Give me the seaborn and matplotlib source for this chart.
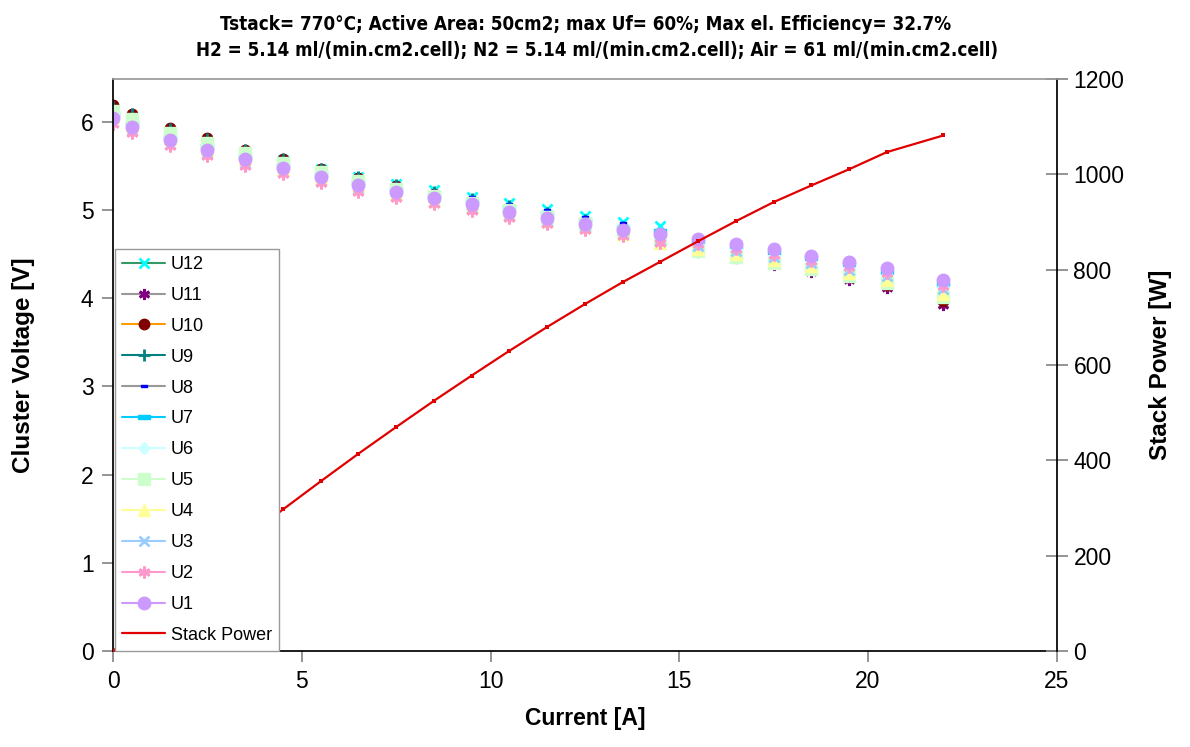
import numpy as np
import pandas as pd
import matplotlib
matplotlib.use('Agg')
import matplotlib.pyplot as plt
from matplotlib.lines import Line2D
import seaborn as sns

# Strom [A]
current = [0, 0.5, 1.5, 2.5, 3.5, 4.5, 5.5, 6.5, 7.5, 8.5, 9.5, 10.5, 11.5,
           12.5, 13.5, 14.5, 15.5, 16.5, 17.5, 18.5, 19.5, 20.5, 22]

# Cluster-Spannungen [V]
u1 = [6.04, 5.94, 5.79, 5.68, 5.57, 5.47, 5.37, 5.28, 5.20, 5.13, 5.06, 4.98,
      4.91, 4.84, 4.77, 4.72, 4.67, 4.61, 4.55, 4.48, 4.41, 4.34, 4.20]
u2 = [5.97, 5.87, 5.72, 5.61, 5.50, 5.40, 5.30, 5.20, 5.13, 5.06, 4.99, 4.91,
      4.84, 4.77, 4.70, 4.62, 4.61, 4.55, 4.49, 4.42, 4.35, 4.28, 4.14]
u3 = [6.00, 5.90, 5.75, 5.64, 5.53, 5.43, 5.33, 5.24, 5.16, 5.09, 5.02, 4.94,
      4.87, 4.80, 4.72, 4.66, 4.59, 4.53, 4.47, 4.40, 4.32, 4.25, 4.10]
u4 = [6.05, 5.95, 5.80, 5.68, 5.57, 5.46, 5.36, 5.27, 5.18, 5.10, 5.03, 4.95,
      4.87, 4.80, 4.72, 4.62, 4.56, 4.50, 4.43, 4.36, 4.28, 4.20, 4.05]
u5 = [6.12, 6.03, 5.87, 5.76, 5.64, 5.53, 5.43, 5.33, 5.24, 5.16, 5.08, 5.00,
      4.92, 4.84, 4.76, 4.66, 4.53, 4.47, 4.40, 4.33, 4.25, 4.17, 4.01]
u6 = [6.06, 5.96, 5.81, 5.70, 5.59, 5.48, 5.38, 5.29, 5.21, 5.13, 5.06, 4.98,
      4.91, 4.83, 4.76, 4.68, 4.61, 4.55, 4.48, 4.41, 4.34, 4.26, 4.12]
u7 = [6.08, 5.98, 5.83, 5.72, 5.61, 5.51, 5.41, 5.32, 5.24, 5.17, 5.10, 5.03,
      4.96, 4.88, 4.81, 4.76, 4.64, 4.58, 4.52, 4.45, 4.38, 4.30, 4.16]
u8 = [6.14, 6.05, 5.90, 5.78, 5.66, 5.56, 5.46, 5.37, 5.29, 5.21, 5.14, 5.07,
      5.00, 4.92, 4.85, 4.75, 4.62, 4.56, 4.50, 4.43, 4.36, 4.28, 4.12]
u9 = [6.17, 6.08, 5.92, 5.80, 5.68, 5.57, 5.46, 5.37, 5.28, 5.20, 5.12, 5.04,
      4.96, 4.88, 4.80, 4.70, 4.58, 4.51, 4.44, 4.36, 4.28, 4.19, 4.02]
u10 = [6.19, 6.09, 5.93, 5.81, 5.68, 5.57, 5.46, 5.36, 5.27, 5.18, 5.10, 5.01,
       4.93, 4.85, 4.77, 4.66, 4.55, 4.48, 4.41, 4.33, 4.24, 4.15, 3.97]
u11 = [6.15, 6.06, 5.90, 5.78, 5.66, 5.55, 5.44, 5.34, 5.25, 5.16, 5.08, 4.99,
       4.91, 4.83, 4.75, 4.63, 4.52, 4.45, 4.37, 4.29, 4.20, 4.11, 3.92]
u12 = [6.11, 6.02, 5.88, 5.77, 5.66, 5.56, 5.46, 5.37, 5.29, 5.22, 5.15, 5.08,
       5.01, 4.93, 4.86, 4.82, 4.64, 4.57, 4.50, 4.43, 4.36, 4.28, 4.13]

# Stack-Leistung [W]
stack_power = [0, 36, 105, 171, 235, 297, 356, 414, 470, 525, 578, 630, 680,
               728, 774, 817, 860, 902, 942, 977, 1011, 1047, 1082]

series_names = ['U12', 'U11', 'U10', 'U9', 'U8', 'U7', 'U6', 'U5', 'U4', 'U3', 'U2', 'U1']
series_values = [u12, u11, u10, u9, u8, u7, u6, u5, u4, u3, u2, u1]

dash_s = [(-1, -0.35), (1, -0.35), (1, 0.35), (-1, 0.35), (-1, -0.35)]
asterisk = (6, 2, 0)
# name: marker, marker colour, legend line colour, size (pt)
stil = {
    'U12': ('x', '#00FFFF', '#339966', 7),
    'U11': (asterisk, '#800080', '#999999', 8),
    'U10': ('o', '#800000', '#FF9900', 7.5),
    'U9': ('+', '#008080', '#008080', 8),
    'U8': (dash_s, '#0000FF', '#999999', 5),
    'U7': (dash_s, '#00CCFF', '#00CCFF', 8),
    'U6': ('D', '#CCFFFF', '#CCFFFF', 6.5),
    'U5': ('s', '#CCFFCC', '#CCFFCC', 8),
    'U4': ('^', '#FFFF99', '#FFFF99', 8),
    'U3': ('x', '#99CCFF', '#99CCFF', 7),
    'U2': (asterisk, '#FF99CC', '#FF99CC', 8.5),
    'U1': ('o', '#CC99FF', '#CC99FF', 9),
}

df = pd.DataFrame({'I': current})
for n, v in zip(series_names, series_values):
    df[n] = v
df['P'] = stack_power

sns.set_theme(style='white')
plt.rcParams['font.family'] = ['Liberation Sans', 'DejaVu Sans']
plt.rcParams['text.color'] = 'black'
plt.rcParams['axes.labelcolor'] = 'black'
plt.rcParams['xtick.color'] = 'black'
plt.rcParams['ytick.color'] = 'black'

fig = plt.figure(figsize=(11.9, 7.47), dpi=100)
ax = fig.add_axes([0.095, 0.1285, 0.793, 0.7655])

for n in series_names:
    mk, mc, lc, ms = stil[n]
    filled = mk not in ('x', '+', asterisk)
    sns.lineplot(data=df, x='I', y=n, ax=ax, linestyle='none', marker=mk,
                 markersize=ms, color=mc, markeredgecolor=mc,
                 markerfacecolor=mc if filled else 'none',
                 markeredgewidth=1.0 if filled else 2.0, legend=False)

ax.set_xlim(0, 25)
ax.set_ylim(0, 6.48)
ax.set_xticks([0, 5, 10, 15, 20, 25])
ax.set_yticks([0, 1, 2, 3, 4, 5, 6])
ax.set_xlabel('Current [A]', fontsize=16.5, fontweight='bold', labelpad=10)
ax.set_ylabel('Cluster Voltage [V]', fontsize=17.5, fontweight='bold', labelpad=33)

ax2 = ax.twinx()
sns.lineplot(data=df, x='I', y='P', ax=ax2, color='#E00000', linewidth=1.6,
             marker='s', markersize=2.5, markeredgewidth=0, legend=False)
ax2.set_ylim(0, 1200)
ax2.set_yticks([0, 200, 400, 600, 800, 1000, 1200])
ax2.set_ylabel('Stack Power [W]', fontsize=17.5, fontweight='bold', labelpad=18)
ax2.set_xlim(0, 25)

for a in (ax, ax2):
    for s in a.spines.values():
        s.set_visible(False)
ax.spines['left'].set_visible(True)
ax.spines['left'].set_color('black')
ax.spines['bottom'].set_visible(True)
ax.spines['bottom'].set_color('black')
ax2.spines['right'].set_visible(True)
ax2.spines['right'].set_color('black')
ax2.spines['top'].set_visible(True)
ax2.spines['top'].set_color('#999999')

ax.tick_params(axis='both', labelsize=16.5, length=8, color='#888888',
               labelcolor='black', direction='out', left=True, bottom=True, pad=6)
ax2.tick_params(axis='y', labelsize=16.5, length=16, color='#888888',
                labelcolor='black', direction='inout', right=True, pad=4)

handles = []
for n in series_names:
    mk, mc, lc, ms = stil[n]
    filled = mk not in ('x', '+', asterisk)
    handles.append(Line2D([], [], color=lc, linewidth=1.5, marker=mk,
                          markersize=ms, markeredgecolor=mc,
                          markerfacecolor=mc if filled else 'none',
                          markeredgewidth=1.0 if filled else 2.0))
handles.append(Line2D([], [], color='#E00000', linewidth=1.6))
labels = series_names + ['Stack Power']
leg = ax2.legend(handles, labels, loc='lower left', bbox_to_anchor=(0.002, 0.0),
                 borderaxespad=0, fontsize=13, labelspacing=0.77,
                 handlelength=2.4, handletextpad=0.3, fancybox=False,
                 framealpha=1, edgecolor='#999999', borderpad=0.4)
leg.get_frame().set_linewidth(1.0)

titel_font = ['DejaVu Sans']
fig.text(0.492, 0.967, 'Tstack= 770°C; Active Area: 50cm2; max Uf= 60%; Max el. Efficiency= 32.7%',
         ha='center', va='center', fontsize=13.5, fontweight='bold',
         fontstretch='condensed', family=titel_font)
fig.text(0.502, 0.933, 'H2 = 5.14 ml/(min.cm2.cell); N2 = 5.14 ml/(min.cm2.cell); Air = 61 ml/(min.cm2.cell)',
         ha='center', va='center', fontsize=13.5, fontweight='bold',
         fontstretch='condensed', family=titel_font)

fig.savefig('out.png', dpi=100)
